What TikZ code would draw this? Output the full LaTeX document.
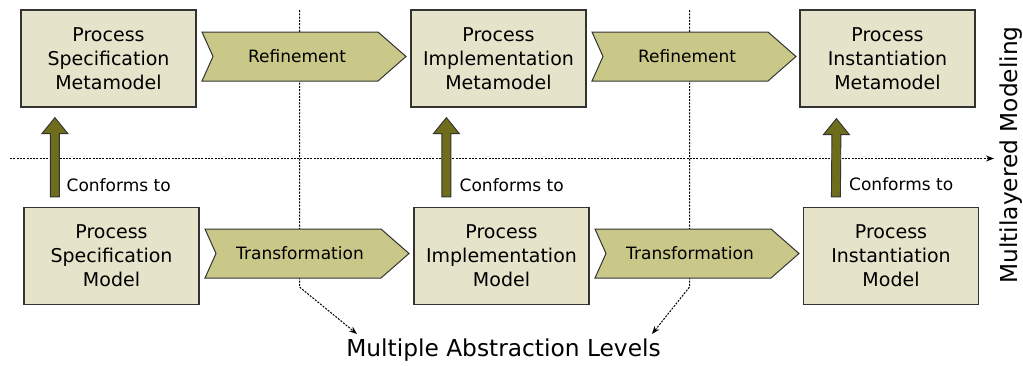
\documentclass[tikz,border=0pt]{standalone}
\usepackage{fontspec}
\setmainfont{DejaVu Sans}
\usetikzlibrary{arrows.meta,calc}

\tikzset{
  modelbox/.style={draw=cborder,line width=1.2pt,fill=cbox,minimum width=175pt,minimum height=97pt,
    align=center,font=\fontsize{19}{24}\selectfont,inner sep=0pt},
  chevron/.style={draw=cborder,line width=1pt,fill=cchev},
  chevtext/.style={font=\fontsize{17}{20}\selectfont,inner sep=0pt},
  conform/.style={draw=cborder,line width=0.9pt,fill=carrow},
  conftext/.style={font=\fontsize{17}{20}\selectfont,anchor=west,inner sep=0pt},
  levelline/.style={line width=1pt,dash pattern=on 2pt off 1.3pt,-{Stealth[length=8pt,width=6pt]}},
  bigtext/.style={font=\fontsize{23.3}{28}\selectfont,inner sep=0pt}
}

\newcommand{\chevronshape}[4]{%
  \draw[chevron] (#2,#3) -- ++(176,0) -- ++(28,24.5) -- ++(-28,24.5) -- ++(-176,0) -- ++(11,-24.5) -- cycle;
  \node[chevtext] (#1) at (#2+95,#3+24) {#4};
}
\newcommand{\conformarrow}[2]{%
  \draw[conform] ($(#1)+(-4.5,0)$) -- ($(#2)+(-4.5,16)$) -- ($(#2)+(-13,16)$) -- (#2)
    -- ($(#2)+(13,16)$) -- ($(#2)+(4.5,16)$) -- ($(#1)+(4.5,0)$) -- cycle;
}

\begin{document}
\begin{tikzpicture}[x=1pt,y=-1pt]
%
\useasboundingbox (0,0) rectangle (1023,365);
%
\definecolor{cborder}{rgb}{0.2,0.2,0.2}
\definecolor{cbox}{rgb}{0.898,0.89,0.788}
\definecolor{cchev}{rgb}{0.788,0.784,0.537}
\definecolor{carrow}{rgb}{0.427,0.427,0.106}
%
\coordinate (hstart) at (10,158.5);
\coordinate (hend) at (994,158.5);
\coordinate (vtop1) at (299.5,10);
\coordinate (vbend1) at (299.5,287);
\coordinate (vend1) at (357,334);
\coordinate (vtop2) at (689.5,10);
\coordinate (vbend2) at (689.5,287);
\coordinate (vend2) at (652,334);
%
\draw[levelline] (hstart) -- (hend);
\draw[levelline] (vtop1) -- (vbend1) -- (vend1);
\draw[levelline] (vtop2) -- (vbend2) -- (vend2);
%
\node[modelbox] (specmeta) at (108.5,58.5) {Process\\Specification\\Metamodel};
\node[modelbox] (implmeta) at (498.5,58.5) {Process\\Implementation\\Metamodel};
\node[modelbox] (instmeta) at (887.5,58.5) {Process\\Instantiation\\Metamodel};
\node[modelbox] (specmod) at (111.5,256) {Process\\Specification\\Model};
\node[modelbox] (implmod) at (501.5,256) {Process\\Implementation\\Model};
\node[modelbox] (instmod) at (891,256) {Process\\Instantiation\\Model};
%
\chevronshape{refine1}{202}{32}{Refinement}
\chevronshape{refine2}{592}{32}{Refinement}
\chevronshape{transform1}{205}{229}{Transformation}
\chevronshape{transform2}{595}{229}{Transformation}
%
\coordinate (cfrom1) at ($(specmod.north west)+(31.5,-10)$);
\coordinate (cto1) at ($(specmeta.south west)+(34.5,10)$);
\coordinate (cfrom2) at ($(implmod.north west)+(33,-10)$);
\coordinate (cto2) at ($(implmeta.south west)+(36,10)$);
\coordinate (cfrom3) at ($(instmod.north west)+(33,-10)$);
\coordinate (cto3) at ($(instmeta.south west)+(37,11)$);
\conformarrow{cfrom1}{cto1}
\conformarrow{cfrom2}{cto2}
\conformarrow{cfrom3}{cto3}
\node[conftext] (conf1) at (66.5,185) {Conforms to};
\node[conftext] (conf2) at (459.5,185) {Conforms to};
\node[conftext] (conf3) at (849,184) {Conforms to};
%
\node[bigtext] (levels) at (503.5,350) {Multiple Abstraction Levels};
\node[bigtext,rotate=90] (layers) at (1011,155) {Multilayered Modeling};
%
\end{tikzpicture}
\end{document}
